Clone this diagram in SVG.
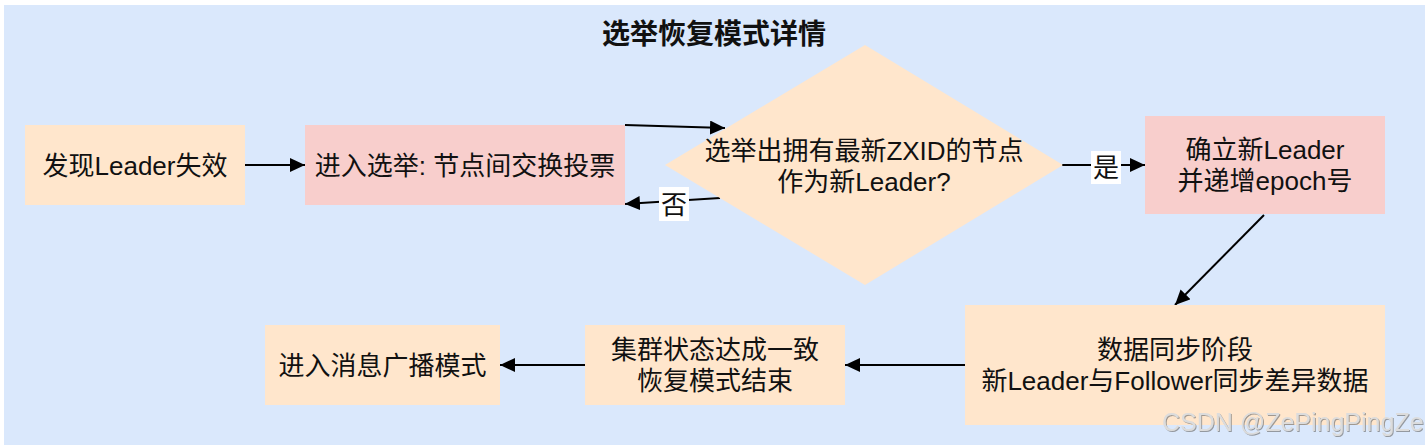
<svg xmlns="http://www.w3.org/2000/svg" width="1428" height="448" viewBox="0 0 1428 448">
  <style>
    .t { font-family: "Liberation Sans", "Noto Sans CJK SC", sans-serif; font-size: 26px; fill: #111; text-anchor: middle; }
    .title { font-family: "Liberation Sans", "Noto Sans CJK SC", sans-serif; font-size: 28px; font-weight: bold; fill: #111; text-anchor: middle; }
    .peach { fill: #ffe6cc; }
    .pink { fill: #f8cecc; }
    .conn { stroke: #000; stroke-width: 2; fill: none; marker-end: url(#arrow); }
    .lblbg { fill: #ffffff; }
    .wm { font-family: "Liberation Sans", sans-serif; font-size: 25px; fill: #dcdcdc; filter: url(#shadow); }
  </style>
  <defs>
    <marker id="arrow" markerUnits="userSpaceOnUse" markerWidth="16" markerHeight="16" refX="15" refY="7" orient="auto">
      <path d="M0,0 L15,7 L0,14 Z" fill="#000"/>
    </marker>
    <filter id="shadow" x="-5%" y="-20%" width="110%" height="140%">
      <feDropShadow dx="1" dy="1" stdDeviation="0.6" flood-color="#777" flood-opacity="0.7"/>
    </filter>
  </defs>

  <rect x="0" y="0" width="1428" height="448" fill="#ffffff"/>
  <rect id="background" x="4" y="5" width="1421" height="440" fill="#dae8fc"/>

  <text class="title" x="714" y="43.5">选举恢复模式详情</text>

  <g id="connectors">
    <line class="conn" x1="245" y1="165" x2="305" y2="165"/>
    <line class="conn" x1="625" y1="125" x2="725" y2="128"/>
    <line class="conn" x1="720" y1="198" x2="625" y2="204"/>
    <line class="conn" x1="1062" y1="165" x2="1145" y2="165"/>
    <line class="conn" x1="1264" y1="215" x2="1175" y2="305"/>
    <line class="conn" x1="965" y1="365" x2="845" y2="365"/>
    <line class="conn" x1="585" y1="365" x2="500" y2="365"/>
    <g id="label-no">
      <rect class="lblbg" x="659" y="187" width="30" height="34"/>
      <text class="t" x="674" y="213.5">否</text>
    </g>
    <g id="label-yes">
      <rect class="lblbg" x="1091" y="151" width="30" height="33"/>
      <text class="t" x="1106" y="176.5">是</text>
    </g>
  </g>

  <g id="node-detect">
    <rect class="peach" x="25" y="125" width="220" height="80"/>
    <text class="t" x="135" y="174.5">发现Leader失效</text>
  </g>

  <g id="node-election">
    <rect class="pink" x="305" y="125" width="320" height="80"/>
    <text class="t" x="465" y="174.5">进入选举: 节点间交换投票</text>
  </g>

  <g id="node-decision">
    <polygon class="peach" points="865,45 1063,165 865,285 665,165"/>
    <text class="t" x="864" y="160">选举出拥有最新ZXID的节点</text>
    <text class="t" x="864" y="190.5">作为新Leader?</text>
  </g>

  <g id="node-confirm">
    <rect class="pink" x="1145" y="116" width="240" height="98"/>
    <text class="t" x="1265" y="159">确立新Leader</text>
    <text class="t" x="1265" y="190">并递增epoch号</text>
  </g>

  <g id="node-sync">
    <rect class="peach" x="965" y="305" width="420" height="120"/>
    <text class="t" x="1175" y="358.5">数据同步阶段</text>
    <text class="t" x="1175" y="389.5">新Leader与Follower同步差异数据</text>
  </g>

  <g id="node-consistent">
    <rect class="peach" x="585" y="325" width="260" height="80"/>
    <text class="t" x="715" y="358.5">集群状态达成一致</text>
    <text class="t" x="715" y="389.5">恢复模式结束</text>
  </g>

  <g id="node-broadcast">
    <rect class="peach" x="265" y="325" width="235" height="80"/>
    <text class="t" x="382.5" y="374.5">进入消息广播模式</text>
  </g>

  <text class="wm" x="1162" y="431">CSDN @ZePingPingZe</text>
</svg>
